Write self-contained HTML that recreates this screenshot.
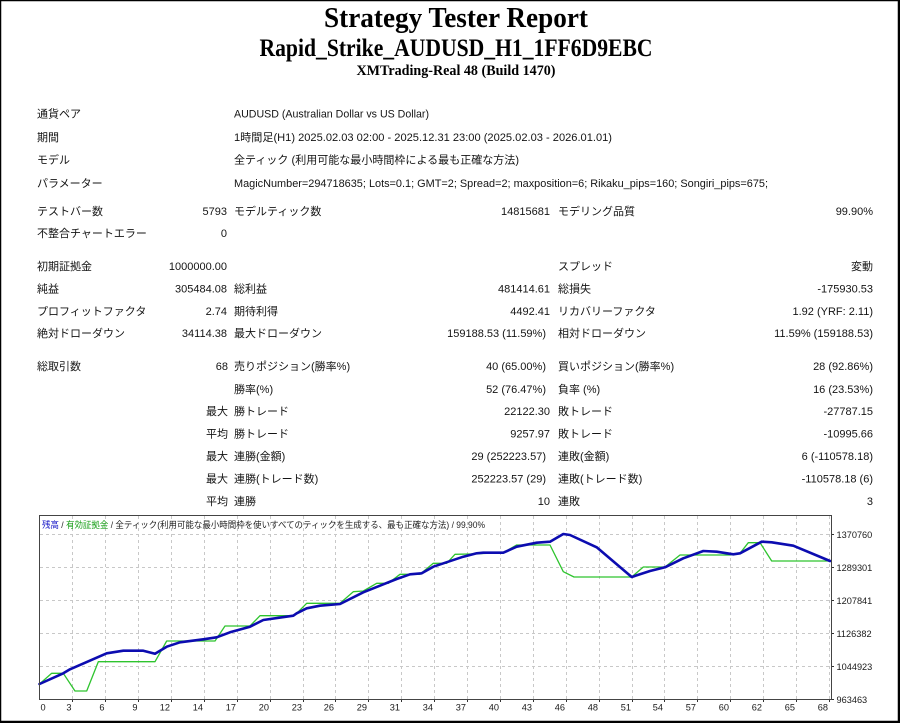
<!DOCTYPE html>
<html><head><meta charset="utf-8"><style>
html,body{margin:0;padding:0;background:#fff;}
svg{display:block;}
.t{font-family:"Liberation Sans","Noto Sans CJK JP",sans-serif;font-size:11px;fill:#141414;}
.h{font-family:"Liberation Serif","Noto Serif CJK SC",serif;font-weight:bold;fill:#000;}
.ax{font-family:"Liberation Sans",sans-serif;font-size:9.2px;fill:#1a1a1a;}
.lg{font-family:"Liberation Sans","Noto Sans CJK JP",sans-serif;font-size:9px;fill:#222;}
</style></head><body>
<svg width="900" height="723" viewBox="0 0 900 723" xmlns="http://www.w3.org/2000/svg">
<rect x="0" y="0" width="900" height="723" fill="#fff"/>
<!-- outer border -->
<rect x="0.5" y="0.5" width="898" height="721" fill="none" stroke="#000" stroke-width="1.5"/>
<line x1="899" y1="0" x2="899" y2="723" stroke="#000" stroke-width="2"/>
<line x1="0" y1="722" x2="900" y2="722" stroke="#000" stroke-width="2"/>

<!-- header -->
<text class="h" x="456" y="27" font-size="29" text-anchor="middle" textLength="264" lengthAdjust="spacingAndGlyphs">Strategy Tester Report</text>
<text class="h" x="456" y="56" font-size="25" text-anchor="middle" textLength="393" lengthAdjust="spacingAndGlyphs">Rapid_Strike_AUDUSD_H1_1FF6D9EBC</text>
<text class="h" x="456" y="75" font-size="15" text-anchor="middle" textLength="199" lengthAdjust="spacingAndGlyphs">XMTrading-Real 48 (Build 1470)</text>

<!-- info rows -->
<text class="t" x="37" y="117.5">通貨ペア</text>
<text class="t" x="234" y="117.5" textLength="195" lengthAdjust="spacingAndGlyphs">AUDUSD (Australian Dollar vs US Dollar)</text>
<text class="t" x="37" y="141">期間</text>
<text class="t" x="234" y="141" textLength="378" lengthAdjust="spacingAndGlyphs">1時間足(H1) 2025.02.03 02:00 - 2025.12.31 23:00 (2025.02.03 - 2026.01.01)</text>
<text class="t" x="37" y="163.5">モデル</text>
<text class="t" x="234" y="163.5" textLength="285" lengthAdjust="spacingAndGlyphs">全ティック (利用可能な最小時間枠による最も正確な方法)</text>
<text class="t" x="37" y="187">パラメーター</text>
<text class="t" x="234" y="187" textLength="534" lengthAdjust="spacingAndGlyphs">MagicNumber=294718635; Lots=0.1; GMT=2; Spread=2; maxposition=6; Rikaku_pips=160; Songiri_pips=675;</text>

<!-- stats -->
<g class="t">
<text x="37" y="215">テストバー数</text>
<text x="227" y="215" text-anchor="end">5793</text>
<text x="234" y="215">モデルティック数</text>
<text x="550" y="215" text-anchor="end">14815681</text>
<text x="558" y="215">モデリング品質</text>
<text x="873" y="215" text-anchor="end">99.90%</text>

<text x="37" y="237">不整合チャートエラー</text>
<text x="227" y="237" text-anchor="end">0</text>

<text x="37" y="270">初期証拠金</text>
<text x="227" y="270" text-anchor="end">1000000.00</text>
<text x="558" y="270">スプレッド</text>
<text x="873" y="270" text-anchor="end">変動</text>

<text x="37" y="292.5">純益</text>
<text x="227" y="292.5" text-anchor="end">305484.08</text>
<text x="234" y="292.5">総利益</text>
<text x="550" y="292.5" text-anchor="end">481414.61</text>
<text x="558" y="292.5">総損失</text>
<text x="873" y="292.5" text-anchor="end">-175930.53</text>

<text x="37" y="315">プロフィットファクタ</text>
<text x="227" y="315" text-anchor="end">2.74</text>
<text x="234" y="315">期待利得</text>
<text x="550" y="315" text-anchor="end">4492.41</text>
<text x="558" y="315">リカバリーファクタ</text>
<text x="873" y="315" text-anchor="end">1.92 (YRF: 2.11)</text>

<text x="37" y="337">絶対ドローダウン</text>
<text x="227" y="337" text-anchor="end">34114.38</text>
<text x="234" y="337">最大ドローダウン</text>
<text x="546" y="337" text-anchor="end">159188.53 (11.59%)</text>
<text x="558" y="337">相対ドローダウン</text>
<text x="873" y="337" text-anchor="end">11.59% (159188.53)</text>

<text x="37" y="370">総取引数</text>
<text x="228" y="370" text-anchor="end">68</text>
<text x="234" y="370">売りポジション(勝率%)</text>
<text x="546" y="370" text-anchor="end">40 (65.00%)</text>
<text x="558" y="370">買いポジション(勝率%)</text>
<text x="873" y="370" text-anchor="end">28 (92.86%)</text>

<text x="234" y="393">勝率(%)</text>
<text x="546" y="393" text-anchor="end">52 (76.47%)</text>
<text x="558" y="393">負率 (%)</text>
<text x="873" y="393" text-anchor="end">16 (23.53%)</text>

<text x="228" y="415" text-anchor="end">最大</text>
<text x="234" y="415">勝トレード</text>
<text x="550" y="415" text-anchor="end">22122.30</text>
<text x="558" y="415">敗トレード</text>
<text x="873" y="415" text-anchor="end">-27787.15</text>

<text x="228" y="437.5" text-anchor="end">平均</text>
<text x="234" y="437.5">勝トレード</text>
<text x="550" y="437.5" text-anchor="end">9257.97</text>
<text x="558" y="437.5">敗トレード</text>
<text x="873" y="437.5" text-anchor="end">-10995.66</text>

<text x="228" y="460" text-anchor="end">最大</text>
<text x="234" y="460">連勝(金額)</text>
<text x="546" y="460" text-anchor="end">29 (252223.57)</text>
<text x="558" y="460">連敗(金額)</text>
<text x="873" y="460" text-anchor="end">6 (-110578.18)</text>

<text x="228" y="482.5" text-anchor="end">最大</text>
<text x="234" y="482.5">連勝(トレード数)</text>
<text x="546" y="482.5" text-anchor="end">252223.57 (29)</text>
<text x="558" y="482.5">連敗(トレード数)</text>
<text x="873" y="482.5" text-anchor="end">-110578.18 (6)</text>

<text x="228" y="505" text-anchor="end">平均</text>
<text x="234" y="505">連勝</text>
<text x="550" y="505" text-anchor="end">10</text>
<text x="558" y="505">連敗</text>
<text x="873" y="505" text-anchor="end">3</text>
</g>

<!-- chart -->
<g stroke="#c8c8c8" stroke-width="1" stroke-dasharray="3,3" fill="none">
<line x1="40" y1="534.5" x2="831" y2="534.5"/>
<line x1="40" y1="567.5" x2="831" y2="567.5"/>
<line x1="40" y1="600.5" x2="831" y2="600.5"/>
<line x1="40" y1="633.5" x2="831" y2="633.5"/>
<line x1="40" y1="666.5" x2="831" y2="666.5"/>
<line x1="72.5" y1="516" x2="72.5" y2="699"/>
<line x1="105.5" y1="516" x2="105.5" y2="699"/>
<line x1="138.5" y1="516" x2="138.5" y2="699"/>
<line x1="171.5" y1="516" x2="171.5" y2="699"/>
<line x1="204.5" y1="516" x2="204.5" y2="699"/>
<line x1="237.5" y1="516" x2="237.5" y2="699"/>
<line x1="270.5" y1="516" x2="270.5" y2="699"/>
<line x1="303.5" y1="516" x2="303.5" y2="699"/>
<line x1="335.5" y1="516" x2="335.5" y2="699"/>
<line x1="368.5" y1="516" x2="368.5" y2="699"/>
<line x1="401.5" y1="516" x2="401.5" y2="699"/>
<line x1="434.5" y1="516" x2="434.5" y2="699"/>
<line x1="467.5" y1="516" x2="467.5" y2="699"/>
<line x1="500.5" y1="516" x2="500.5" y2="699"/>
<line x1="533.5" y1="516" x2="533.5" y2="699"/>
<line x1="566.5" y1="516" x2="566.5" y2="699"/>
<line x1="599.5" y1="516" x2="599.5" y2="699"/>
<line x1="632.5" y1="516" x2="632.5" y2="699"/>
<line x1="664.5" y1="516" x2="664.5" y2="699"/>
<line x1="697.5" y1="516" x2="697.5" y2="699"/>
<line x1="730.5" y1="516" x2="730.5" y2="699"/>
<line x1="763.5" y1="516" x2="763.5" y2="699"/>
<line x1="796.5" y1="516" x2="796.5" y2="699"/>
<line x1="829.5" y1="516" x2="829.5" y2="699"/>
</g>

<!-- ticks -->
<g stroke="#333" stroke-width="1">
<line x1="72.5" y1="699" x2="72.5" y2="702"/><line x1="105.5" y1="699" x2="105.5" y2="702"/>
<line x1="138.5" y1="699" x2="138.5" y2="702"/><line x1="171.5" y1="699" x2="171.5" y2="702"/>
<line x1="204.5" y1="699" x2="204.5" y2="702"/><line x1="237.5" y1="699" x2="237.5" y2="702"/>
<line x1="270.5" y1="699" x2="270.5" y2="702"/><line x1="303.5" y1="699" x2="303.5" y2="702"/>
<line x1="335.5" y1="699" x2="335.5" y2="702"/><line x1="368.5" y1="699" x2="368.5" y2="702"/>
<line x1="401.5" y1="699" x2="401.5" y2="702"/><line x1="434.5" y1="699" x2="434.5" y2="702"/>
<line x1="467.5" y1="699" x2="467.5" y2="702"/><line x1="500.5" y1="699" x2="500.5" y2="702"/>
<line x1="533.5" y1="699" x2="533.5" y2="702"/><line x1="566.5" y1="699" x2="566.5" y2="702"/>
<line x1="599.5" y1="699" x2="599.5" y2="702"/><line x1="632.5" y1="699" x2="632.5" y2="702"/>
<line x1="664.5" y1="699" x2="664.5" y2="702"/><line x1="697.5" y1="699" x2="697.5" y2="702"/>
<line x1="730.5" y1="699" x2="730.5" y2="702"/><line x1="763.5" y1="699" x2="763.5" y2="702"/>
<line x1="796.5" y1="699" x2="796.5" y2="702"/><line x1="829.5" y1="699" x2="829.5" y2="702"/>
<line x1="831" y1="534.5" x2="834" y2="534.5"/><line x1="831" y1="567.5" x2="834" y2="567.5"/>
<line x1="831" y1="600.5" x2="834" y2="600.5"/><line x1="831" y1="633.5" x2="834" y2="633.5"/>
<line x1="831" y1="666.5" x2="834" y2="666.5"/><line x1="831" y1="699.5" x2="834" y2="699.5"/>
</g>

<!-- equity (green) -->
<polyline fill="none" stroke="#2ec42e" stroke-width="1.3" stroke-linejoin="round" points="39.5,684 51.7,673.3 63.3,673.3 75,691 86.7,691 98.3,661.7 155,661.7 166.7,641 215,641 225,626 250,626 260,615.7 293.3,615.7 296.7,613.3 306.7,603.3 340,603.3 353.3,591.7 363.3,591 376.7,583.3 388.3,583.3 400,574.3 420,574.3 433.3,563.3 446.7,563.3 455,554.3 470,554 503.3,552.7 516.7,545 550,545 563.3,571.7 574,577 631.7,577 643.3,567 665,567 680,555 730,555 740,553.3 748.3,542.7 760,542.7 771.7,561 830,561"/>
<!-- balance (blue) -->
<polyline fill="none" stroke="#0c0cb0" stroke-width="2.6" stroke-linejoin="round" stroke-linecap="round" points="39.5,684 63.3,673.3 70,669.3 106.7,653.3 123.3,650.7 143.3,650.7 155,653.7 166.7,646.7 180,642.3 203.3,639.3 216.7,637.3 230,632.3 250,626.7 263.3,620 293.3,615.7 296.7,613.3 306.7,608.3 320,605.7 340,604 363.3,592.3 396.7,579 410,574.3 421.7,573.3 433.3,566.7 463.3,556.7 476.7,553.3 483.3,552.7 503.3,552.7 516.7,546.7 536.7,542.7 550,541.7 563.3,534 570,535 596.7,547.3 631.7,577 650,571 665,567.3 683.3,558.3 703.3,551 716.7,551.7 733.3,554.3 740,553.3 761.7,541.7 771.7,542.3 793.3,545.7 830,561"/>

<!-- chart border -->
<rect x="39.5" y="515.5" width="792" height="184" fill="none" stroke="#444" stroke-width="1"/>

<!-- legend -->
<text class="lg" x="42" y="528" textLength="443" lengthAdjust="spacingAndGlyphs"><tspan fill="#1c1cc8">残高</tspan> / <tspan fill="#1aa01a">有効証拠金</tspan> / 全ティック(利用可能な最小時間枠を使いすべてのティックを生成する、最も正確な方法) / 99.90%</text>

<!-- y labels -->
<g class="ax">
<text x="836.5" y="538">1370760</text>
<text x="836.5" y="571">1289301</text>
<text x="836.5" y="604">1207841</text>
<text x="836.5" y="637">1126382</text>
<text x="836.5" y="670">1044923</text>
<text x="836.5" y="703">963463</text>
</g>
<!-- x labels -->
<g class="ax">
<text x="40.5" y="710.5">0</text>
<g text-anchor="end">
<text x="71.5" y="710.5">3</text>
<text x="104.5" y="710.5">6</text>
<text x="137.5" y="710.5">9</text>
<text x="170" y="710.5">12</text>
<text x="203" y="710.5">14</text>
<text x="236" y="710.5">17</text>
<text x="269" y="710.5">20</text>
<text x="302" y="710.5">23</text>
<text x="334" y="710.5">26</text>
<text x="367" y="710.5">29</text>
<text x="400" y="710.5">31</text>
<text x="433" y="710.5">34</text>
<text x="466" y="710.5">37</text>
<text x="499" y="710.5">40</text>
<text x="532" y="710.5">43</text>
<text x="565" y="710.5">46</text>
<text x="598" y="710.5">48</text>
<text x="631" y="710.5">51</text>
<text x="663" y="710.5">54</text>
<text x="696" y="710.5">57</text>
<text x="729" y="710.5">60</text>
<text x="762" y="710.5">62</text>
<text x="795" y="710.5">65</text>
<text x="828" y="710.5">68</text>
</g>
</g>
</svg>
</body></html>
